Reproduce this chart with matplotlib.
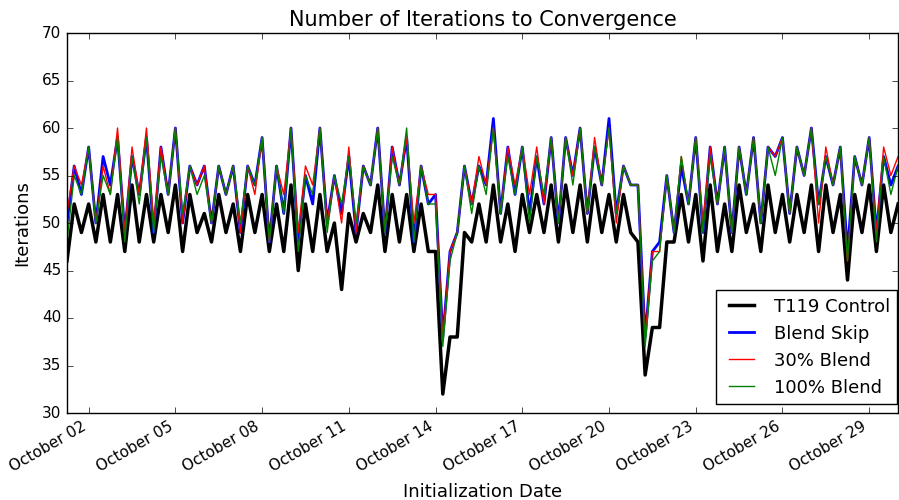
"""
Iterations to convergence per initialization time, control vs blend runs
"""

import matplotlib
matplotlib.use('Agg')
import matplotlib.dates as mdates
import matplotlib.pyplot as plt
import pandas as pd

plt.style.use('classic')

# initialization times, every 6 hours
dates = pd.date_range('2015-10-01 06:00', periods=116, freq='6h')

control = [46, 52, 49, 52, 48, 53, 48, 53, 47, 54, 48, 53, 48, 53, 49, 54,
           47, 53, 49, 51, 48, 53, 49, 52, 47, 53, 49, 53, 47, 52, 47, 54,
           45, 52, 47, 53, 47, 50, 43, 51, 48, 51, 49, 54, 47, 53, 48, 53,
           47, 52, 47, 47, 32, 38, 38, 49, 48, 52, 48, 54, 48, 52, 47, 53,
           49, 53, 49, 54, 48, 54, 49, 54, 48, 54, 49, 53, 48, 53, 49, 48,
           34, 39, 39, 48, 48, 53, 48, 53, 46, 54, 47, 52, 47, 54, 49, 52,
           47, 54, 49, 53, 48, 53, 49, 54, 47, 54, 49, 53, 44, 53, 49, 54,
           47, 54, 49, 52]

blend_skip = [50, 56, 53, 58, 50, 57, 54, 59, 49, 57, 53, 59, 49, 58, 53, 60,
              50, 56, 54, 56, 50, 56, 53, 56, 49, 56, 54, 59, 48, 56, 51, 60,
              48, 55, 52, 60, 50, 55, 51, 57, 49, 56, 54, 60, 49, 58, 54, 59,
              48, 56, 52, 53, 38, 47, 49, 56, 52, 56, 54, 61, 51, 58, 53, 58,
              51, 57, 52, 59, 50, 59, 55, 60, 51, 58, 54, 61, 51, 56, 54, 54,
              38, 47, 48, 55, 49, 56, 52, 59, 49, 58, 52, 58, 49, 58, 53, 59,
              50, 58, 57, 59, 51, 58, 55, 60, 52, 57, 54, 58, 47, 57, 54, 59,
              49, 57, 54, 56]

blend_30 = [51, 56, 54, 58, 50, 56, 53, 60, 49, 58, 53, 60, 50, 58, 53, 60,
            50, 56, 54, 56, 50, 56, 53, 56, 49, 56, 53, 59, 48, 56, 53, 60,
            49, 56, 54, 60, 50, 55, 50, 58, 49, 56, 54, 60, 49, 58, 54, 59,
            50, 56, 53, 53, 38, 47, 49, 56, 52, 57, 54, 60, 51, 58, 54, 58,
            53, 58, 52, 59, 50, 59, 55, 60, 51, 59, 54, 60, 50, 56, 54, 54,
            38, 47, 47, 55, 49, 57, 52, 59, 50, 58, 52, 58, 49, 58, 53, 59,
            50, 58, 57, 59, 51, 58, 55, 60, 50, 58, 54, 58, 46, 57, 54, 59,
            49, 58, 55, 57]

blend_100 = [48, 55, 53, 58, 50, 55, 53, 59, 48, 57, 52, 59, 49, 57, 53, 60,
             51, 56, 53, 55, 50, 56, 53, 56, 50, 56, 54, 59, 48, 56, 51, 60,
             47, 55, 53, 60, 49, 55, 52, 57, 50, 56, 54, 60, 49, 57, 54, 60,
             48, 56, 52, 52, 37, 46, 49, 56, 51, 56, 53, 60, 51, 57, 53, 58,
             50, 57, 53, 59, 50, 59, 54, 60, 51, 58, 54, 60, 51, 56, 54, 54,
             37, 46, 47, 55, 49, 57, 52, 59, 49, 57, 52, 58, 49, 58, 53, 59,
             50, 58, 55, 59, 51, 58, 55, 60, 52, 57, 54, 58, 46, 57, 54, 59,
             48, 57, 53, 56]

# plot
fig = plt.figure(figsize=(8.99, 5.0), dpi=100, facecolor='white')
ax = fig.add_axes([0.0745, 0.174, 0.9245, 0.76])
ax.plot(dates, control, color='k', lw=2.5, label='T119 Control')
ax.plot(dates, blend_skip, color='b', lw=2, label='Blend Skip')
ax.plot(dates, blend_30, color='r', lw=1, label='30% Blend')
ax.plot(dates, blend_100, color='g', lw=1, label='100% Blend')

ax.set_xlim(dates[0], dates[-1])
ax.set_ylim(30, 70)
ax.xaxis.set_major_locator(mdates.DayLocator(bymonthday=range(2, 32, 3)))
ax.xaxis.set_major_formatter(mdates.DateFormatter('%B %d'))
ax.tick_params(labelsize=11)
for lbl in ax.get_xticklabels():
    lbl.set_rotation(30)
    lbl.set_ha('right')

ax.set_title('Number of Iterations to Convergence', fontsize=15)
ax.set_xlabel('Initialization Date', fontsize=13, labelpad=6)
ax.set_ylabel('Iterations', fontsize=13, labelpad=8)
ax.legend(loc='lower right', bbox_to_anchor=(1.01, 0.0), fontsize=13)

fig.savefig('out.png', dpi=100, facecolor='white')
